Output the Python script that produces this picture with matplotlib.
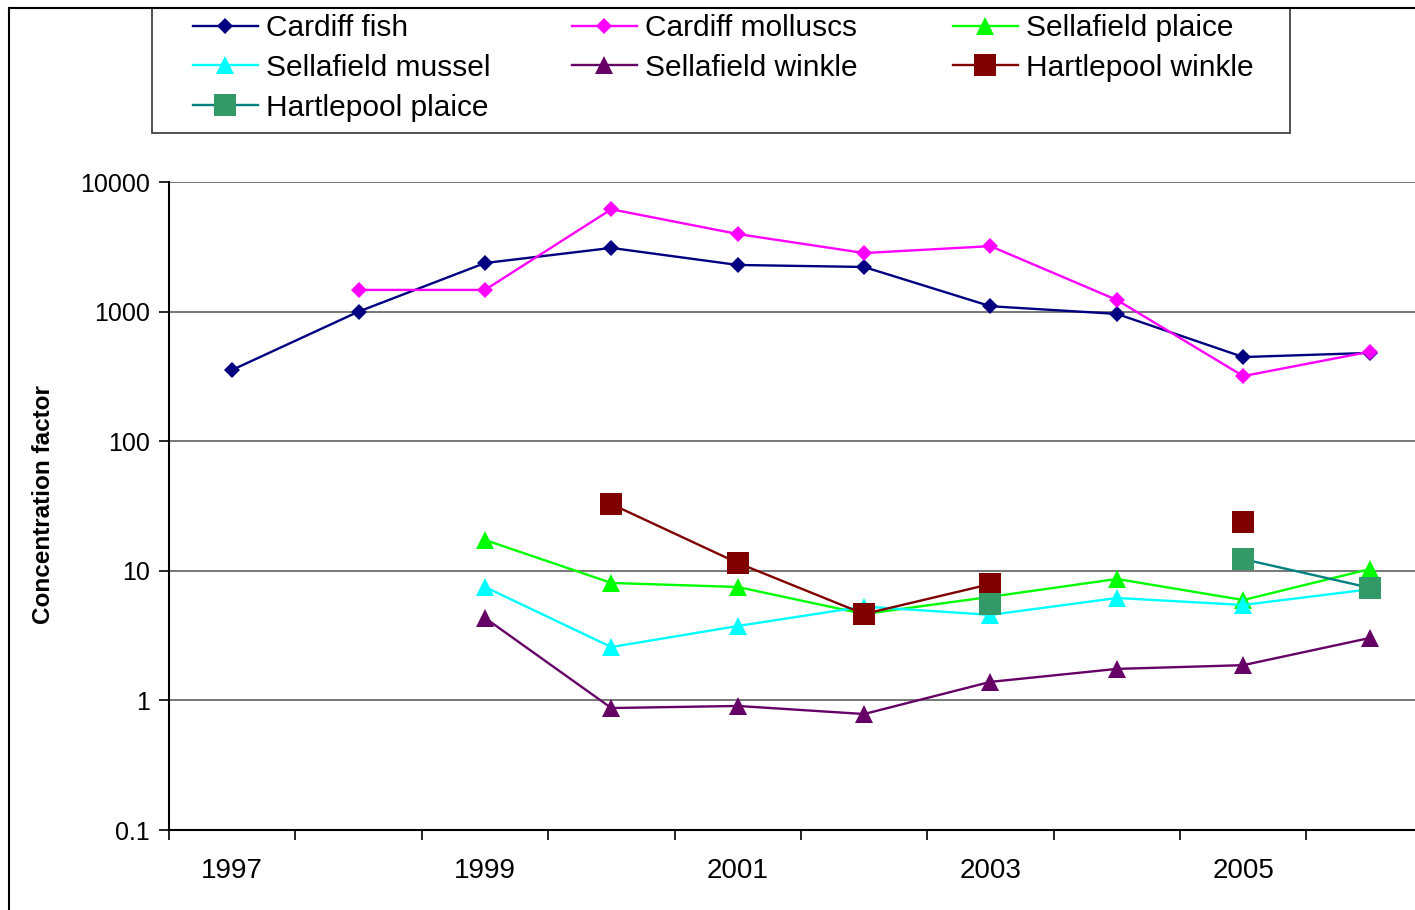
import numpy as np
import matplotlib
matplotlib.use('Agg')
import matplotlib.pyplot as plt
from matplotlib.lines import Line2D
from matplotlib.patches import Rectangle

plt.rcParams['font.family'] = ['Liberation Sans', 'DejaVu Sans']

nan = np.nan
years = ['1997', '1998', '1999', '2000', '2001', '2002', '2003', '2004', '2005', '2006']
cardiff_fish = [355, 1000, 2370, 3100, 2290, 2210, 1100, 960, 446, 480]
cardiff_molluscs = [nan, 1470, 1470, 6160, 3970, 2830, 3200, 1230, 318, 490]
sellafield_plaice = [nan, nan, 17.3, 8.06, 7.5, 4.64, 6.3, 8.65, 5.95, 10.3]
sellafield_mussel = [nan, nan, 7.5, 2.58, 3.75, 5.3, 4.57, 6.17, 5.45, 7.2]
sellafield_winkle = [nan, nan, 4.33, 0.873, 0.906, 0.785, 1.39, 1.75, 1.87, 3.03]
hartlepool_winkle = [nan, nan, nan, 32.7, 11.5, 4.64, 7.9, nan, 24, nan]
hartlepool_plaice = [nan, nan, nan, nan, nan, nan, 5.55, nan, 12.3, 7.4]

W, H = 1415, 910
fig = plt.figure(figsize=(W / 100, H / 100), dpi=100)
ax = fig.add_axes([169 / W, 1 - 830 / H, (W - 169) / W, (830 - 182) / H])

x = np.arange(len(years))
series = [
    ('Cardiff fish', cardiff_fish, '#000080', 'D', 8.5, '#000080'),
    ('Cardiff molluscs', cardiff_molluscs, '#FF00FF', 'D', 8.5, '#FF00FF'),
    ('Sellafield plaice', sellafield_plaice, '#00FF00', '^', 12.5, '#00FF00'),
    ('Sellafield mussel', sellafield_mussel, '#00FFFF', '^', 12.5, '#00FFFF'),
    ('Sellafield winkle', sellafield_winkle, '#660066', '^', 12.5, '#660066'),
    ('Hartlepool winkle', hartlepool_winkle, '#800000', 's', 15.5, '#800000'),
    ('Hartlepool plaice', hartlepool_plaice, '#008080', 's', 15.5, '#339966'),
]
handles = {}
for i, (name, vals, lc, mk, ms, mc) in enumerate(series):
    ln, = ax.plot(x, vals, color=lc, lw=1.7, marker=mk, markersize=ms,
                  markerfacecolor=mc, markeredgecolor=mc, markeredgewidth=0,
                  label=name, zorder=3 + i, clip_on=False)
    handles[name] = ln

ax.set_yscale('log')
ax.set_yticks([0.1, 1, 10, 100, 1000, 10000])
ax.set_yticklabels(['0.1', '1', '10', '100', '1000', '10000'])
ax.yaxis.set_minor_locator(matplotlib.ticker.NullLocator())
ax.yaxis.grid(True, which='major', color='#606060', lw=1.2)
ax.set_axisbelow(True)

ax.set_xticks(np.arange(-0.5, len(years), 1.0))
ax.set_xticklabels([])
ax.set_xticks(x[::2], minor=True)
ax.set_xticklabels(years[::2], minor=True)
ax.tick_params(axis='x', which='major', direction='out', length=7, width=1.2, color='black')
ax.tick_params(axis='x', which='minor', length=0, pad=20, labelsize=20)
ax.tick_params(axis='y', which='major', direction='out', length=7, width=1.2, pad=7, labelsize=18)

ax.set_ylim(0.1, 10000)
ax.set_xlim(-0.5, (W - 232) / 126.4)

for s in ['top', 'right']:
    ax.spines[s].set_visible(False)
for s in ['left', 'bottom']:
    ax.spines[s].set_color('black')
    ax.spines[s].set_linewidth(1.5)

fig.text(44 / W, 1 - 505 / H, 'Concentration factor', rotation=90, ha='center', va='center',
         fontsize=17.5, fontweight='bold')

# figure border lines
fig.add_artist(Line2D([9 / W, 9 / W], [0, 1 - 8 / H], color='black', lw=1.5))
fig.add_artist(Line2D([9 / W, 1], [1 - 8 / H, 1 - 8 / H], color='black', lw=1.5))

# legend box
fig.add_artist(Rectangle((152 / W, 1 - 133 / H), (1290 - 152) / W, (133 - 8) / H,
                         transform=fig.transFigure, fill=False, edgecolor='#333333', lw=1.2))

cols = [
    (193, ['Cardiff fish', 'Sellafield mussel', 'Hartlepool plaice']),
    (572, ['Cardiff molluscs', 'Sellafield winkle']),
    (953, ['Sellafield plaice', 'Hartlepool winkle']),
]
for xp, names in cols:
    fig.legend([handles[n] for n in names], names, loc='upper left',
               bbox_to_anchor=(xp / W, 1 - 14 / H), bbox_transform=fig.transFigure,
               frameon=False, fontsize=21.5, handlelength=2.17, handletextpad=0.27,
               borderpad=0, borderaxespad=0, labelspacing=0.4, numpoints=1)

fig.savefig('out.png', dpi=100)
